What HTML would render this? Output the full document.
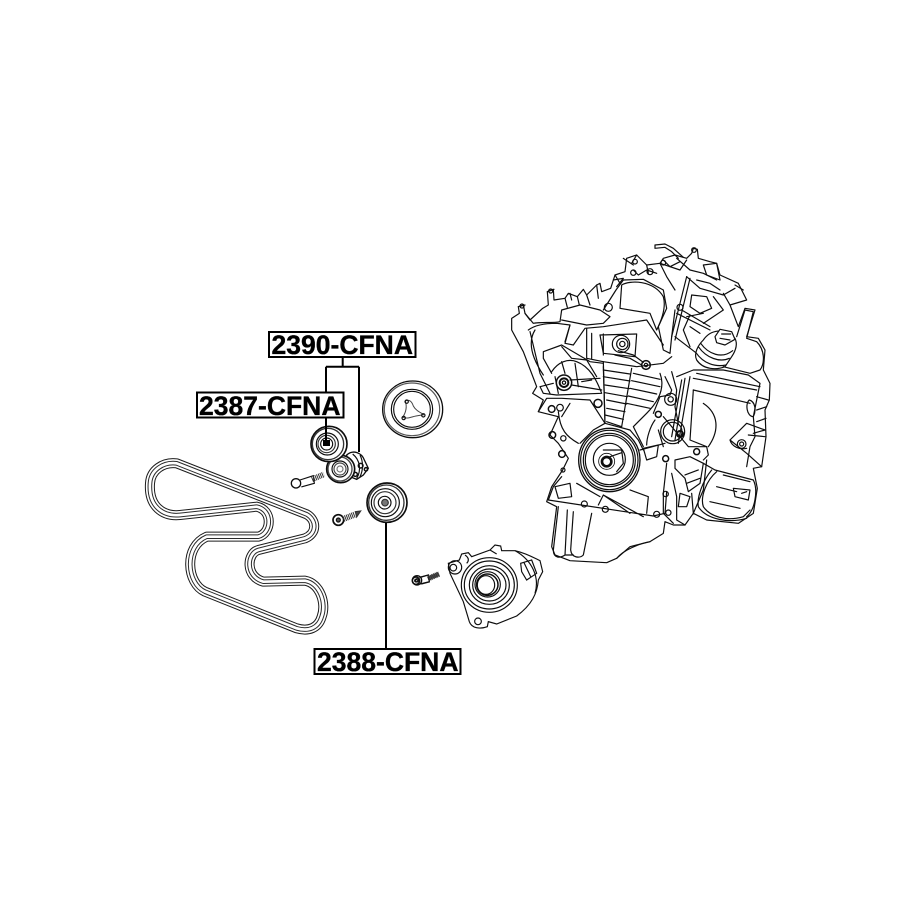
<!DOCTYPE html>
<html><head><meta charset="utf-8"><style>
html,body{margin:0;padding:0;background:#fff;width:915px;height:915px;overflow:hidden}
svg{display:block}
text{font-family:"Liberation Sans",sans-serif;font-weight:bold;font-size:26.5px;fill:#000;stroke:#000;stroke-width:.35px}
</style></head><body>
<svg width="915" height="915" viewBox="0 0 915 915" xmlns="http://www.w3.org/2000/svg">
<defs><filter id="b" x="-5%" y="-5%" width="110%" height="110%"><feGaussianBlur stdDeviation="0.4"/></filter></defs>
<rect width="915" height="915" fill="#fff"/>

<g transform="translate(130,320) scale(.33333)" fill="none" stroke="#111" stroke-width="3.5" filter="url(#b)">
 <g fill="none" stroke-linejoin="round">
  <path d="M140,430 L530,583 C560,600 562,640 525,655 L385,690 C350,700 345,770 400,785 L525,782 C570,790 590,850 575,890 C565,925 535,935 500,925 L225,815 C170,790 160,680 230,650 L385,650 C425,640 430,570 380,560 L150,585 C100,590 55,560 60,490 C62,450 100,425 140,430 Z" stroke="#1a1a1a" stroke-width="30"/>
  <path d="M140,430 L530,583 C560,600 562,640 525,655 L385,690 C350,700 345,770 400,785 L525,782 C570,790 590,850 575,890 C565,925 535,935 500,925 L225,815 C170,790 160,680 230,650 L385,650 C425,640 430,570 380,560 L150,585 C100,590 55,560 60,490 C62,450 100,425 140,430 Z" stroke="#fff" stroke-width="24"/>
  <path d="M140,430 L530,583 C560,600 562,640 525,655 L385,690 C350,700 345,770 400,785 L525,782 C570,790 590,850 575,890 C565,925 535,935 500,925 L225,815 C170,790 160,680 230,650 L385,650 C425,640 430,570 380,560 L150,585 C100,590 55,560 60,490 C62,450 100,425 140,430 Z" stroke="#2a2a2a" stroke-width="14"/>
  <path d="M140,430 L530,583 C560,600 562,640 525,655 L385,690 C350,700 345,770 400,785 L525,782 C570,790 590,850 575,890 C565,925 535,935 500,925 L225,815 C170,790 160,680 230,650 L385,650 C425,640 430,570 380,560 L150,585 C100,590 55,560 60,490 C62,450 100,425 140,430 Z" stroke="#fff" stroke-width="8"/>
 </g>
 <ellipse cx="848" cy="268" rx="90" ry="85" stroke-width="4"/>
 <ellipse cx="846" cy="268" rx="83" ry="79" stroke="#555"/>
 <ellipse cx="846" cy="268" rx="62" ry="60"/>
 <ellipse cx="846" cy="268" rx="55" ry="54"/>
 <path d="M826,243 C838,236 846,246 850,258 C856,270 868,276 882,284 M826,243 C832,262 826,280 818,292 C832,298 846,290 858,288 L882,284" stroke-width="3" stroke="#444"/>
 <circle cx="830" cy="245" r="5"/><circle cx="880" cy="286" r="5"/><circle cx="821" cy="294" r="5"/>
 <path d="M650,405 C670,388 695,398 703,420 L715,445 L700,465 L680,478 L660,470 Z" fill="#fff" stroke-width="4"/>
 <path d="M668,402 C690,420 695,450 680,475 M690,405 C700,425 700,450 690,470" />
 <circle cx="692" cy="437" r="7" stroke-width="4.500"/><circle cx="676" cy="463" r="6" stroke-width="4.500"/><circle cx="708" cy="448" r="5" stroke-width="4.500"/>
 <ellipse cx="632" cy="447" rx="42" ry="41" fill="#fff" stroke-width="5"/>
 <ellipse cx="630" cy="447" rx="36" ry="36" stroke="#444" stroke-width="4"/>
 <circle cx="630" cy="447" r="24"/>
 <circle cx="630" cy="447" r="18" stroke="#444"/>
 <circle cx="630" cy="447" r="9" stroke="#777"/>
 <ellipse cx="597" cy="372" rx="54" ry="53" fill="#fff" stroke-width="5"/>
 <ellipse cx="594" cy="372" rx="47" ry="47" stroke="#333" stroke-width="4"/>
 <circle cx="592" cy="372" r="33"/>
 <circle cx="590" cy="372" r="26" stroke="#333"/>
 <circle cx="590" cy="372" r="18"/>
 <ellipse cx="771" cy="548" rx="60" ry="59" fill="#fff" stroke-width="5"/>
 <ellipse cx="769" cy="548" rx="53" ry="53" stroke="#333" stroke-width="4"/>
 <circle cx="766" cy="548" r="42"/>
 <circle cx="765" cy="548" r="33" stroke="#333"/>
 <circle cx="764" cy="548" r="19"/>
 <circle cx="765" cy="548" r="10" fill="#777" stroke="#333"/>
 <circle cx="498" cy="490" r="14" stroke-width="4"/>
 <path d="M510,480 L550,467 L553,490 L514,501"/>
 <path d="M546,478 L582,463" stroke="#333" stroke-width="17" stroke-dasharray="3 2.500"/>
 <circle cx="625" cy="600" r="16" stroke-width="5"/><circle cx="625" cy="600" r="6" fill="#555"/>
 <path d="M640,597 L676,583" stroke="#333" stroke-width="18" stroke-dasharray="3 2.500"/>
 <path d="M676,575 L692,573 L680,591 Z" fill="#444" stroke="#333"/>
 <circle cx="861" cy="781" r="14" stroke-width="4"/><circle cx="861" cy="781" r="5"/>
 <path d="M872,772 L895,765 L898,786 L874,792" />
 <path d="M894,777 L927,763" stroke="#333" stroke-width="15" stroke-dasharray="3 2.500"/>
</g>

<g transform="translate(400,530) scale(.33333)" fill="none" stroke="#111" stroke-width="3.5" filter="url(#b)">
 <path d="M145,100 L178,90 L185,72 L205,68 L215,80 L270,60 L285,45 L302,48 L305,62 L345,62 C380,70 405,85 420,92 L428,125 L415,150 C412,190 395,225 350,258 L290,282 L265,275 L262,290 C240,298 215,295 208,275 L190,215 L150,130 Z"/>
 <circle cx="160" cy="113" r="10"/><circle cx="234" cy="274" r="10"/>
 <circle cx="165" cy="112" r="20"/>
 <ellipse cx="268" cy="165" rx="84" ry="82"/>
 <ellipse cx="268" cy="165" rx="75" ry="72"/>
 <ellipse cx="268" cy="165" rx="60" ry="58"/>
 <ellipse cx="268" cy="165" rx="50" ry="48"/>
 <ellipse cx="263" cy="163" rx="38" ry="38"/>
 <ellipse cx="262" cy="164" rx="32" ry="32" stroke-width="4.500"/>
 <ellipse cx="258" cy="165" rx="26" ry="28"/>
 <path d="M362,100 L395,90 L410,130 L380,150 L365,125 Z M372,98 L392,140" fill="#fff"/>
 <path d="M270,60 L290,72 M195,75 C210,85 205,95 200,100 M345,62 C395,90 420,140 405,190"/>
 <circle cx="48" cy="152" r="11" stroke-width="4.500"/><circle cx="48" cy="152" r="4"/>
 <path d="M58,142 L85,135 L88,155 L60,162"/>
 <path d="M86,144 L117,131" stroke="#333" stroke-width="15" stroke-dasharray="3 2.500"/>
</g>

<g transform="translate(490,230) scale(.33333)" fill="none" stroke="#111" stroke-width="3.6" stroke-linejoin="round" stroke-linecap="round" filter="url(#b)">
 <path d="M65,265 L88,250 L85,230 L100,225 L105,250 L120,270 L158,235 L175,225 L172,185 L190,178 L192,210 L225,205 L235,190 L262,200 L280,178 L290,195 L320,165 L330,160 L335,185 L362,175 L375,135 L405,125 L410,85 L440,75 L470,105 L510,100 L520,85 L555,75 L590,85 L605,70 L610,55 L622,58 L625,85 L660,95 L680,100 L690,135 L745,160 L770,210 L720,225 L745,290 L765,235 L795,240 L770,320 L805,325 L825,360 L820,420 L840,460 L838,510 L825,540 L828,620 L815,710 L790,715 L802,775 L790,850 L745,880 L650,870 L610,850 L585,885 L550,885 L525,875 L520,910 L480,935 L420,950 L380,985 L350,998 L240,992 L195,975 L185,950 L200,830 L170,815 L185,770 L218,720 L235,685 L205,640 L180,615 L205,560 L145,545 L160,510 L128,490 L140,470 L100,365 L65,300 Z"/>
 <path d="M85,230 L105,225 M172,185 L192,178 M105,250 L130,280 C150,275 190,280 210,275 L215,240 L270,225 L330,240 L360,260 L340,280 L290,285 L215,270"/>
 <path d="M115,300 C135,285 170,280 200,280 L240,285 L225,335 M120,305 L150,430 L180,490 M135,300 C110,340 130,390 160,435"/>
 <path d="M225,205 L232,232 M262,200 L268,225 M320,165 L325,205 M290,195 L300,225 M240,190 L245,210"/>
 <path d="M240,285 L225,340 L250,345 L285,295 L340,290 L470,270 L520,345 M340,240 L378,180 L400,150 L460,148 L520,180 L530,235 L505,290 L520,360 L540,370 L545,320 L555,240"/>
 <path d="M395,165 C420,150 490,150 520,200 C530,235 510,280 500,300 L480,250 L390,235 Z"/>
 <path d="M400,85 L430,105 M430,120 L445,135 L470,120 L500,130 M375,135 L390,160 M470,105 L475,130 M510,100 L530,140 L555,180 M520,90 L540,110 L570,95 M440,75 L425,100 M370,150 L400,145 L380,170"/>
 <circle cx="430" cy="128" r="8"/><circle cx="435" cy="95" r="7"/><circle cx="355" cy="232" r="12"/><circle cx="570" cy="232" r="9"/><circle cx="480" cy="125" r="9"/><circle cx="520" cy="98" r="7"/>
 <path d="M495,45 L525,42 L550,55 L580,82 M495,55 L525,52 L545,65 L565,85 M495,45 L495,55"/>
 <path d="M510,100 L570,120 L590,90 M560,85 L600,120 L640,130 L680,150 M590,140 L545,320 M600,145 L555,330"/>
 <path d="M605,195 L650,200 L665,235 L630,250 L600,230 Z M590,140 L630,175 L700,195 L735,175 M640,105 L680,100 L690,150 L650,135 Z M700,190 L720,225 M735,165 L760,180 M620,150 L660,160 L690,180 M670,200 L700,240 L640,280 M590,260 L640,250"/>
 <path d="M560,250 L660,300 M575,240 L660,290 M555,320 L620,370 M600,255 L580,300 L600,350 M600,290 L630,310"/>
 <path d="M640,330 C660,300 705,290 735,325 C745,345 735,365 725,380 L705,410 C680,420 640,420 620,390 C610,370 625,345 640,330 Z" fill="#fff"/>
 <path d="M632,340 C655,372 695,388 728,362 M625,350 C650,385 690,398 718,385 M618,368 C640,400 675,412 708,405"/>
 <path d="M675,320 L690,298 L725,305 L735,328 L705,345 L680,338 Z M695,312 L722,312 M690,325 L720,330" fill="#fff"/>
 <path d="M740,320 L765,240 L790,245 L770,325 L800,335 C825,360 825,400 810,420 L780,430 L700,410"/>
 <path d="M560,440 L610,420 L700,420 L775,435 L810,460 L800,510 L790,560 L795,620 L780,650 L770,710 M610,480 L780,520 M610,445 L800,480 M620,430 L810,470"/>
 <path d="M610,480 L600,630 L650,650 M640,520 C685,550 690,600 655,650 M600,440 L565,640 M585,445 L555,630 M575,450 L545,620"/>
 <path d="M778,510 C765,520 770,560 790,560 C800,540 795,515 778,510 Z M800,500 L835,510 M800,540 L830,530 M800,575 L828,565 M790,610 L825,600"/>
 <path d="M720,630 L770,580 L825,600 M720,630 L770,670 L815,710 M775,615 L825,620 M720,630 C725,650 750,660 770,655"/>
 <circle cx="755" cy="642" r="13"/><circle cx="755" cy="642" r="6"/>
 <path d="M640,700 L675,720 L790,750 C805,780 795,840 770,860 M680,725 C650,750 630,800 640,830 C660,860 710,875 760,860 L780,840 M665,720 C640,750 620,800 625,830 C650,870 720,880 770,865 M700,735 L780,755 M660,815 L750,835 M680,770 L740,785"/>
 <path d="M730,775 L780,780 L775,810 L735,800 Z M755,790 L770,785"/>
 <path d="M650,690 L640,780 L610,850 L605,790"/>
 <path d="M290,295 L290,385 L340,395 L345,580 L310,600 L270,640 M305,310 L305,385 M330,315 L440,312 L435,380 L340,370 Z M340,312 L340,375"/>
 <circle cx="393" cy="342" r="26"/><circle cx="397" cy="342" r="17"/><circle cx="397" cy="342" r="8"/>
 <path d="M375,375 L420,385 L455,405 M385,362 L430,375 L460,397 M340,395 L440,410 L520,400 L545,380"/>
 <circle cx="468" cy="405" r="13" stroke-width="4.500"/><circle cx="468" cy="405" r="5"/>
 <path d="M340,420 L420,432 M340,440 L420,453 M345,465 L418,476 M345,488 L412,500 M350,510 L410,522 M350,535 L405,545 M345,555 L400,568 M350,575 L395,590 M430,430 L510,448 M425,452 L510,470 M420,475 L500,492 M415,498 L490,515 M410,520 L480,535"/>
 <path d="M425,415 L395,590 M510,430 C525,470 510,510 470,550 L430,590 L460,650 M340,410 L345,580 L420,600 L445,630 L460,660"/>
 <path d="M160,385 L160,365 L215,345 L300,395 L340,400 M160,385 L185,430 M215,350 L245,385 L290,390 L320,440"/>
 <path d="M185,425 C205,395 235,385 260,395 C300,410 320,450 335,490 L200,495 L160,490 L150,470 L190,460"/>
 <circle cx="222" cy="458" r="23" stroke-width="4.500"/><circle cx="222" cy="458" r="13" stroke-width="6"/><circle cx="222" cy="458" r="5"/>
 <path d="M240,450 L330,445 M245,465 L335,480 M255,400 L265,470 M215,395 L225,430 M275,455 L305,450 M195,440 L205,490"/>
 <path d="M145,545 L170,505 L215,505 L300,510 L345,580 M205,545 C210,600 230,620 265,640 M215,560 L240,520"/>
 <circle cx="185" cy="537" r="10" stroke-width="4.500"/><circle cx="210" cy="533" r="10"/><circle cx="324" cy="520" r="12" stroke-width="4.500"/><circle cx="187" cy="615" r="10" stroke-width="4.500"/><circle cx="220" cy="625" r="8"/><circle cx="216" cy="672" r="10" stroke-width="4.500"/><circle cx="219" cy="720" r="6"/>
 <ellipse cx="358" cy="690" rx="92" ry="95" fill="#fff" stroke-width="4"/>
 <ellipse cx="358" cy="690" rx="86" ry="89"/>
 <ellipse cx="358" cy="690" rx="78" ry="80"/>
 <ellipse cx="358" cy="690" rx="72" ry="74"/>
 <circle cx="358" cy="688" r="48"/>
 <circle cx="350" cy="694" r="24" stroke-width="2.500"/>
 <circle cx="350" cy="695" r="14" stroke-width="8"/>
 <path d="M360,680 L395,668 M340,660 L395,660 M395,660 L400,700 L380,725"/>
 <path d="M215,740 L190,770 L175,810 L490,858 L525,850 L530,785 M195,770 L240,760 L245,800 L205,805 Z M260,760 L330,800 M340,795 L460,860 M420,780 L475,800 L470,850 M420,850 L340,795 L325,825"/>
 <circle cx="283" cy="822" r="9"/><circle cx="346" cy="838" r="9"/><circle cx="500" cy="853" r="9"/>
 <path d="M460,655 L505,645 L500,680 L470,690 Z M450,660 L525,640 M495,570 C480,590 470,625 470,645 M520,560 L595,650 L650,650 L655,675 L640,690"/>
 <circle cx="505" cy="553" r="9" stroke-width="4.500"/>
 <circle cx="548" cy="605" r="36"/><circle cx="548" cy="605" r="28"/><circle cx="570" cy="612" r="9" stroke-width="6"/>
 <path d="M505,600 L520,650 M525,440 L545,480 L540,495 L510,500 L490,550 M545,425 L560,480 L555,530 L565,580"/>
 <circle cx="542" cy="508" r="18"/><circle cx="542" cy="508" r="8"/>
 <circle cx="620" cy="665" r="9" stroke-width="4.500"/><circle cx="527" cy="686" r="9" stroke-width="4.500"/>
 <path d="M555,690 L600,680 L640,700 L630,760 L595,785 L585,745 L555,715 Z M585,735 L625,720 M590,760 L630,745"/>
 <path d="M530,700 L520,790 L520,850 L550,880 M545,730 L560,800 L560,870 L585,885 M570,790 L600,800 L590,830 L565,830 Z"/>
 <circle cx="527" cy="792" r="8"/><circle cx="535" cy="848" r="8"/>
 <path d="M205,830 L190,960 C190,985 210,985 225,975 L232,840 M250,845 L242,960 C245,985 270,985 280,975 L305,850 M225,975 L250,975"/>
 <path d="M380,985 C400,960 450,940 480,935"/>
 <circle cx="96" cy="228" r="6"/><circle cx="182" cy="183" r="6"/><circle cx="612" cy="60" r="7"/>
</g>

<g fill="none" stroke="#000" stroke-width="2">
 <path d="M342.700,357 V366.700 M326,366.700 H359 M326,366.700 V392 M359,366.700 V452"/>
 <path d="M326,418 V442 M386,523 V648"/>
</g>
<rect x="323" y="440" width="7" height="6" fill="#000"/>
<g fill="#fff" stroke="#000" stroke-width="2">
 <rect x="269" y="332" width="146.500" height="25"/>
 <rect x="197" y="392.500" width="146.500" height="25"/>
 <rect x="314.500" y="649" width="146" height="25"/>
</g>
<text x="271.500" y="354" textLength="141.500" lengthAdjust="spacingAndGlyphs">2390-CFNA</text>
<text x="199" y="415" textLength="141.500" lengthAdjust="spacingAndGlyphs">2387-CFNA</text>
<text x="317" y="671" textLength="141.500" lengthAdjust="spacingAndGlyphs">2388-CFNA</text>
</svg>
</body></html>
